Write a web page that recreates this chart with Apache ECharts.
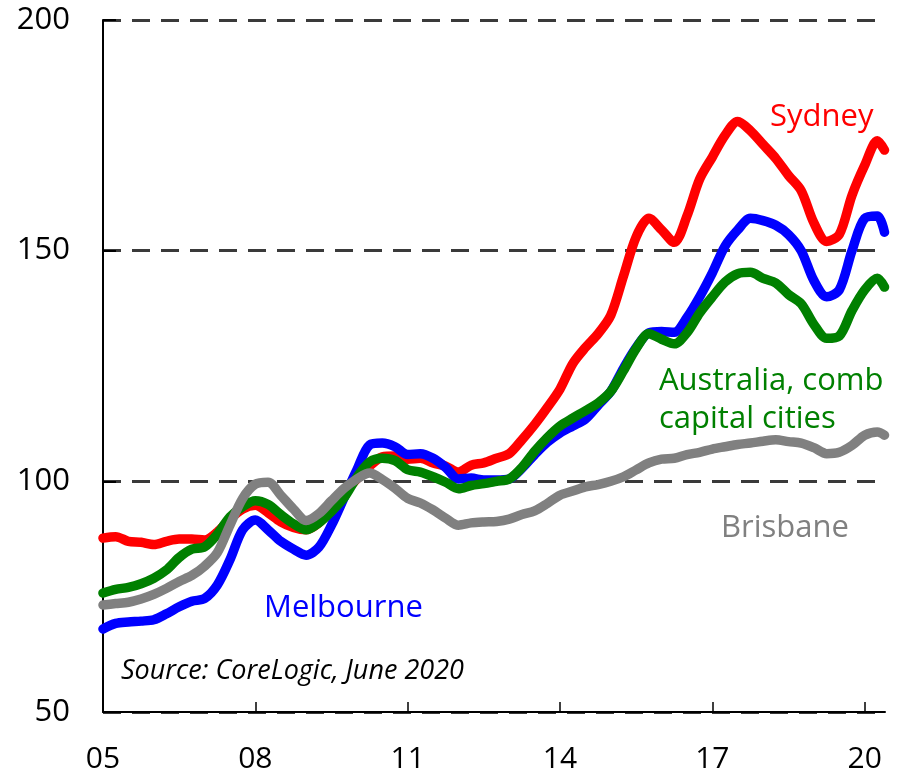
<!DOCTYPE html>
<html>
<head>
<meta charset="utf-8">
<script src="https://cdn.jsdelivr.net/npm/echarts@6/dist/echarts.min.js"></script>
<style>
  html, body { margin: 0; padding: 0; background: #fff; }
  #chart { width: 898px; height: 775px; }
</style>
</head>
<body>
<div id="chart"></div>
<script>
// quarterly dates (decimal years), last point is May 2020
var dates = [
  2005.00, 2005.25, 2005.50, 2005.75, 2006.00, 2006.25, 2006.50, 2006.75,
  2007.00, 2007.25, 2007.50, 2007.75, 2008.00, 2008.25, 2008.50, 2008.75,
  2009.00, 2009.25, 2009.50, 2009.75, 2010.00, 2010.25, 2010.50, 2010.75,
  2011.00, 2011.25, 2011.50, 2011.75, 2012.00, 2012.25, 2012.50, 2012.75,
  2013.00, 2013.25, 2013.50, 2013.75, 2014.00, 2014.25, 2014.50, 2014.75,
  2015.00, 2015.25, 2015.50, 2015.75, 2016.00, 2016.25, 2016.50, 2016.75,
  2017.00, 2017.25, 2017.50, 2017.75, 2018.00, 2018.25, 2018.50, 2018.75,
  2019.00, 2019.25, 2019.50, 2019.75, 2020.00, 2020.25, 2020.39
];

var sydney = [
  87.7, 88.0, 87.0, 86.8, 86.3, 87.0, 87.5, 87.5,
  87.3, 89.0, 91.8, 94.0, 94.8, 93.2, 91.2, 90.0,
  89.5, 91.0, 94.0, 97.5, 100.5, 103.3, 105.3, 105.5,
  104.8, 105.0, 104.0, 103.3, 102.0, 103.5, 104.0, 105.0,
  106.0, 109.0, 112.3, 116.0, 120.0, 125.5, 129.0, 132.0,
  136.0, 144.5, 153.0, 157.0, 154.5, 151.8, 157.5, 165.5,
  170.3, 175.0, 178.0, 176.0, 173.0, 170.0, 166.3, 163.0,
  156.0, 152.0, 153.5, 162.0, 168.5, 173.8, 171.8
];

var melbourne = [
  68.0, 69.2, 69.5, 69.7, 70.0, 71.3, 72.8, 74.0,
  74.6, 77.5, 83.0, 89.5, 91.6, 89.5, 87.0, 85.3,
  84.0, 85.7, 90.5, 96.5, 102.5, 107.9, 108.3, 107.5,
  105.8, 106.0, 105.0, 103.0, 100.5, 100.7, 100.3, 100.3,
  100.5, 102.8, 105.8, 108.5, 110.5, 112.0, 113.5, 116.5,
  119.5, 124.5, 129.0, 132.2, 132.5, 132.3, 135.5, 140.0,
  145.2, 151.0, 154.5, 157.0, 156.5, 155.5, 153.5, 150.0,
  143.5, 140.0, 141.5, 150.0, 157.0, 157.5, 154.0
];

var australia = [
  75.8, 76.6, 77.0, 77.8, 79.0, 80.8, 83.5, 85.3,
  85.8, 88.5, 92.3, 94.5, 95.8, 95.0, 92.8, 90.8,
  89.5, 91.0, 93.5, 96.5, 100.9, 104.2, 105.0, 104.5,
  102.5, 102.0, 101.0, 99.8, 98.4, 99.1, 99.5, 100.0,
  100.5, 103.0, 106.5, 109.5, 112.0, 113.7, 115.3, 117.0,
  119.5, 124.0, 128.8, 132.0, 130.8, 129.8, 132.2, 136.5,
  140.0, 143.2, 145.0, 145.3, 144.0, 143.0, 140.5, 138.5,
  134.0, 131.0, 131.5, 137.0, 141.5, 144.0, 142.1
];

var brisbane = [
  73.2, 73.5, 73.8, 74.5, 75.5, 76.8, 78.3, 79.6,
  81.6, 84.5, 90.5, 96.3, 99.4, 99.8, 97.0, 94.0,
  91.5, 93.0, 95.8, 98.5, 100.5, 101.8, 100.4, 98.5,
  96.3, 95.3, 93.8, 92.0, 90.5, 91.0, 91.2, 91.3,
  91.8, 92.8, 93.6, 95.2, 97.0, 97.9, 98.8, 99.3,
  100.0, 101.0, 102.5, 104.0, 104.8, 105.0, 105.8, 106.3,
  107.0, 107.5, 108.0, 108.3, 108.7, 109.0, 108.6, 108.3,
  107.3, 106.0, 106.3, 107.8, 110.0, 110.7, 110.0
];

var seriesNames = ['Sydney', 'Melbourne', 'Australia', 'Brisbane'];
var seriesColors = ['#ff0000', '#0000ff', '#008000', '#808080'];
var seriesData = [sydney, melbourne, australia, brisbane];

var myChart = echarts.init(document.getElementById('chart'), null, { renderer: 'canvas' });

var FONT = '"Open Sans", "Noto Sans", sans-serif';

function pairs(values) {
  return values.map(function (v, i) { return [dates[i], v]; });
}

var series = seriesNames.map(function (name, i) {
  return {
    name: name,
    type: 'line',
    data: pairs(seriesData[i]),
    showSymbol: false,
    smooth: 0.3,
    lineStyle: { color: seriesColors[i], width: 9.5, cap: 'round', join: 'round' },
    animation: false,
    z: 2 + i
  };
});

var option = {
  backgroundColor: '#fff',
  animation: false,
  grid: { left: 103, right: 13, top: 20, bottom: 63 },
  xAxis: {
    type: 'value',
    min: 2005,
    max: 2020.4,
    interval: 3,
    axisLine: { show: true, onZero: false, lineStyle: { color: '#000', width: 2 } },
    axisTick: { show: true, inside: true, length: 10, lineStyle: { color: '#000', width: 1.5 } },
    axisLabel: {
      showMaxLabel: false,
      margin: 32,
      color: '#000',
      fontSize: 30,
      fontFamily: FONT,
      formatter: function (v) { return String(Math.round(v)).slice(2); }
    },
    splitLine: { show: false }
  },
  yAxis: {
    type: 'value',
    min: 50,
    max: 200,
    interval: 50,
    axisLine: { show: true, lineStyle: { color: '#000', width: 2 } },
    axisTick: { show: true, inside: true, length: 13, lineStyle: { color: '#000', width: 2 } },
    axisLabel: { margin: 33, color: '#000', fontSize: 31, fontFamily: FONT },
    splitLine: {
      show: true,
      lineStyle: { color: '#3a3a3a', width: 3, type: [18, 11] }
    }
  },
  series: series,
  graphic: [
    { type: 'text', left: 770, top: 102, style: { text: 'Sydney', fill: '#ff0000', font: '31px ' + FONT } },
    { type: 'text', left: 659, top: 366, style: { text: 'Australia, comb', fill: '#008000', font: '31px ' + FONT } },
    { type: 'text', left: 659, top: 404, style: { text: 'capital cities', fill: '#008000', font: '31px ' + FONT } },
    { type: 'text', left: 721, top: 513, style: { text: 'Brisbane', fill: '#808080', font: '31px ' + FONT } },
    { type: 'text', left: 264, top: 593, style: { text: 'Melbourne', fill: '#0000ff', font: '31px ' + FONT } },
    { type: 'text', left: 121, top: 658, style: { text: 'Source: CoreLogic, June 2020', fill: '#000', font: 'italic 27px ' + FONT } }
  ]
};

myChart.setOption(option);
</script>
</body>
</html>
